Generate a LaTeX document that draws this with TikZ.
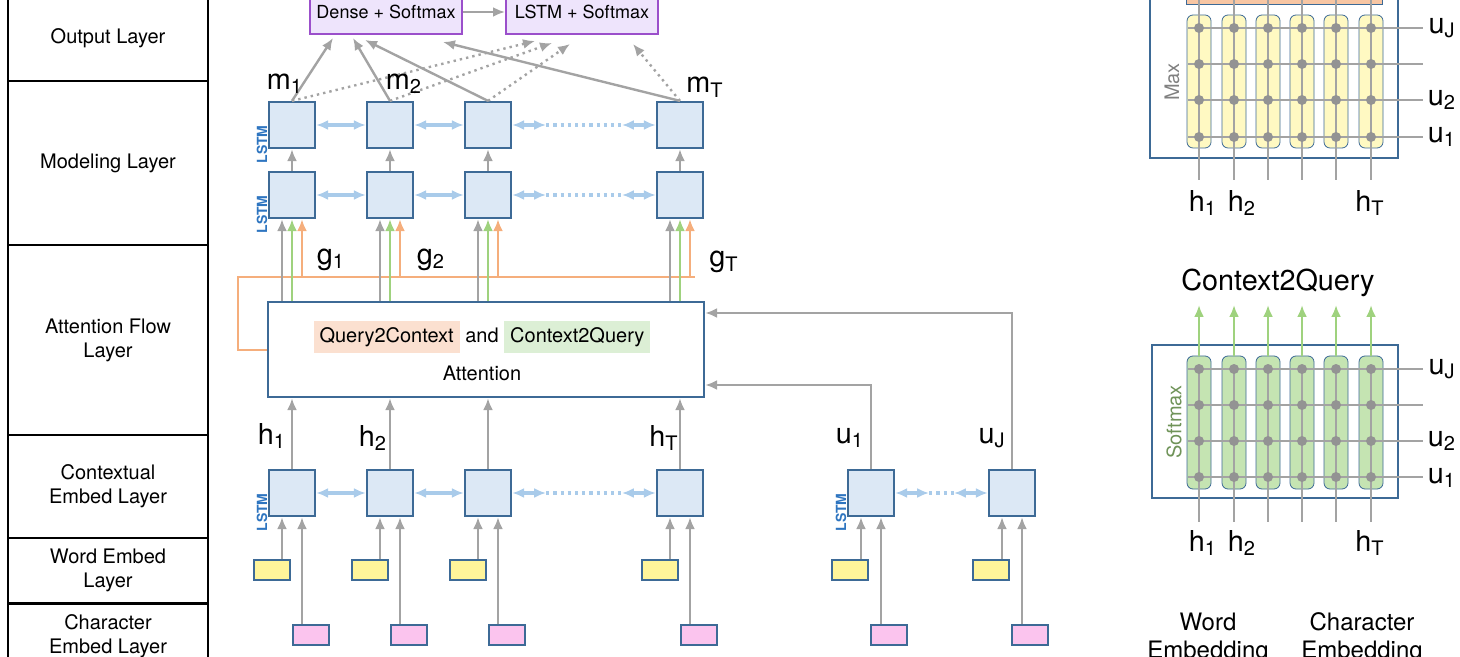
\documentclass[tikz,border=0pt]{standalone}
\usepackage{fontspec}
\setmainfont{TeX Gyre Heros}
\usetikzlibrary{positioning, arrows.meta}
\definecolor{cellfill}{HTML}{DCE8F5}
\definecolor{cellline}{HTML}{3D6A96}
\definecolor{lblue}{HTML}{A9CBEA}
\definecolor{lgray}{HTML}{A3A3A3}
\definecolor{orng}{HTML}{F5AE7C}
\definecolor{grn}{HTML}{9FD27E}
\definecolor{purp}{HTML}{9B4FCB}
\definecolor{purpfill}{HTML}{EEE4FC}
\definecolor{yel}{HTML}{FFF59A}
\definecolor{pnk}{HTML}{FBC4EE}
\definecolor{lstmblue}{HTML}{2E75C0}
\newcommand{\sub}[2]{#1\textsubscript{#2}}
\tikzset{
  cell/.style={draw=cellline, fill=cellfill, line width=1.1pt, minimum size=23pt, inner sep=0pt},
  wemb/.style={draw=cellline, fill=yel, line width=1pt, minimum width=18pt, minimum height=10pt, inner sep=0pt},
  cemb/.style={draw=cellline, fill=pnk, line width=1pt, minimum width=18pt, minimum height=10pt, inner sep=0pt},
  layer/.style={draw, line width=0.8pt, minimum width=100pt, align=center, inner sep=0pt},
  outbox/.style={draw=purp, fill=purpfill, line width=1pt, minimum width=72pt, minimum height=22pt, font=\small},
  garr/.style={draw=lgray, line width=1.2pt, -{Latex[length=6pt,width=5pt]}},
  barr/.style={draw=lblue, line width=1.6pt, {Latex[length=6pt,width=5pt]}-{Latex[length=6pt,width=5pt]}},
  lab/.style={font=\Large, inner sep=0pt},
  lstm/.style={rotate=90, font=\scriptsize\bfseries, text=lstmblue, inner sep=0pt},
  dot/.style={circle, fill=gray!85, inner sep=0pt, minimum size=5pt},
}
\begin{document}
\begin{tikzpicture}[x=0.5pt, y=-0.5pt]
\useasboundingbox (0,0) rectangle (1460,657);

% layer names on the left
\node[layer, minimum height=43pt] (lout) at (108,38) {Output Layer};
\node[layer, minimum height=82pt] (lmod) at (108,163) {Modeling Layer};
\node[layer, minimum height=95pt] (latt) at (108,340) {Attention Flow\\Layer};
\node[layer, minimum height=51.5pt] (lctx) at (108,486.5) {Contextual\\Embed Layer};
\node[layer, minimum height=32.5pt] (lwrd) at (108,570.5) {Word Embed\\Layer};
\node[layer, minimum height=32pt, anchor=north] (lchr) at (108,603) {Character\\Embed Layer};

% output layer
\node[outbox] (dense) at (386,12) {Dense + Softmax};
\node[outbox, minimum width=76pt] (lsmax) at (582,12) {LSTM + Softmax};
\draw[garr] (dense) -- (lsmax);

% modeling, contextual cells
\foreach \i/\x in {1/292, 2/390, 3/488, 4/680} {
  \node[cell] (m\i) at (\x,125) {};
  \node[cell] (n\i) at (\x,195) {};
  \node[cell] (h\i) at (\x,493) {};
  \node[wemb] (w\i) at (\x-20,570) {};
  \node[cemb] (c\i) at (\x+19,635) {};
  \draw[garr] (n\i) -- (m\i);
  \draw[garr] (w\i.north -| {\x-10,0}) -- (h\i.south -| {\x-10,0});
  \draw[garr] (c\i.north -| {\x+10,0}) -- (h\i.south -| {\x+10,0});
}
\foreach \i/\x in {1/871, 2/1012} {
  \node[cell] (q\i) at (\x,493) {};
  \node[wemb] (qw\i) at (\x-21,570) {};
  \node[cemb] (qc\i) at (\x+18,635) {};
  \draw[garr] (qw\i.north -| {\x-10,0}) -- (q\i.south -| {\x-10,0});
  \draw[garr] (qc\i.north -| {\x+10,0}) -- (q\i.south -| {\x+10,0});
}
\node[lstm, left=3pt of m1] {LSTM};
\node[lstm, left=3pt of n1] {LSTM};
\node[lstm, left=3pt of h1] {LSTM};
\node[lstm, left=3pt of q1] {LSTM};

% bidirectional links
\foreach \r in {m,n,h} {
  \draw[barr] (\r1) -- (\r2);
  \draw[barr] (\r2) -- (\r3);
  \draw[barr] (\r3.east) -- ++(34,0) coordinate (\r a);
  \draw[barr] (\r4.west) -- ++(-34,0) coordinate (\r b);
  \draw[lblue, line width=1.6pt, dotted] (\r a) -- (\r b);
}
\draw[barr] (q1.east) -- ++(34,0) coordinate (qa);
\draw[barr] (q2.west) -- ++(-34,0) coordinate (qb);
\draw[lblue, line width=1.6pt, dotted] (qa) -- (qb);

% attention box
\node[draw=cellline, line width=1.1pt, minimum width=218pt, minimum height=47.5pt, inner sep=0pt] (att) at (486,349.5) {};
\node[inner sep=1pt] (atxt) at (482,337) {\colorbox[HTML]{FBE0D0}{Query2Context} and \colorbox[HTML]{DCEFD5}{Context2Query}};
\node[below=2pt of atxt] (atxt2) {Attention};

% contextual outputs
\foreach \i/\x in {1/292, 2/390, 3/488, 4/680}
  \draw[garr] (h\i.north) -- (att.south -| h\i);
\draw[garr] (q1.north) |- (att.south east |- {0,385});
\draw[garr] (q2.north) |- (att.north east |- {0,313});

% attention outputs
\draw[orng, line width=1.3pt] (att.west |- {0,350}) -| (238,277) -- (695,277);
\foreach \i/\x in {1/292, 2/390, 3/488, 4/680} {
  \draw[garr] (att.north -| {\x-10,0}) -- (n\i.south -| {\x-10,0});
  \draw[garr, draw=grn] (att.north -| {\x,0}) -- (n\i.south -| {\x,0});
  \draw[garr, draw=orng] (\x+10,277) -- (n\i.south -| {\x+10,0});
}

% modeling outputs
\draw[garr] (m1.north) -- (333,38);
\draw[garr] (m2.north) -- (353,38);
\draw[garr] (m3.north) -- (365,40);
\draw[garr] (m4.north) -- (443,42);
\draw[garr, dotted] (m1.north) -- (535,41);
\draw[garr, dotted] (m2.north) -- (552,43);
\draw[garr, dotted] (m3.north) -- (570,44);
\draw[garr, dotted] (m4.north) -- (633,44);

% labels
\node[lab] (lm1) at (285,84) {\sub{m}{1}};
\node[lab] (lm2) at (404,84) {\sub{m}{2}};
\node[lab] (lm4) at (705,87) {\sub{m}{T}};
\node[lab] (lg1) at (331,260) {\sub{g}{1}};
\node[lab] (lg2) at (431,260) {\sub{g}{2}};
\node[lab] (lg4) at (724,262) {\sub{g}{T}};
\node[lab] (lh1) at (272,436) {\sub{h}{1}};
\node[lab] (lh2) at (373,438) {\sub{h}{2}};
\node[lab] (lh4) at (664,438) {\sub{h}{T}};
\node[lab] (lu1) at (850,438) {\sub{u}{1}};
\node[lab] (lu2) at (992,438) {\sub{u}{J}};

% similarity grids on the right
\draw[cellline, line width=1.2pt] (1150,-20) rectangle (1398,158);
\draw[cellline, line width=1.2pt] (1152,345) rectangle (1398,498);
\fill[orng!70, draw=cellline] (1186,-14) rectangle (1382,4);
\foreach \x in {1199,1234,1268,1302,1336,1371} {
  \filldraw[draw=cellline, fill=yel!60, rounded corners=3pt] (\x-12,15) rectangle (\x+12,148);
  \filldraw[draw=cellline, fill=grn!60, rounded corners=3pt] (\x-12,356) rectangle (\x+12,489);
}
\foreach \y in {28,64,100,137}
  \draw[lgray, line width=1.2pt] (1188,\y) -- (1423,\y);
\foreach \y in {369,405,441,477}
  \draw[lgray, line width=1.2pt] (1188,\y) -- (1423,\y);
\foreach \x in {1199,1234,1268,1302,1336,1371} {
  \draw[lgray, line width=1.2pt] (\x,0) -- (\x,180);
  \draw[lgray, line width=1.2pt] (\x,369) -- (\x,522);
  \draw[garr, draw=grn] (\x,356) -- (\x,305);
  \foreach \y in {28,64,100,137} \node[dot] at (\x,\y) {};
  \foreach \y in {369,405,441,477} \node[dot] at (\x,\y) {};
}
\node[rotate=90, text=gray] (lmax) at (1172,82) {Max};
\node[rotate=90, text=grn!70!black] (lsoft) at (1174,422) {Softmax};
\node[font=\Large] (c2q) at (1278,283) {Context2Query};
\foreach \y/\d in {0/0, 340/341} {
  \node[lab] at (1442,{28+\d}) {\sub{u}{J}};
  \node[lab] at (1442,{100+\d}) {\sub{u}{2}};
  \node[lab] at (1442,{137+\d}) {\sub{u}{1}};
  \node[lab] at (1203,{203+\y}) {\sub{h}{1}};
  \node[lab] at (1242,{203+\y}) {\sub{h}{2}};
  \node[lab] at (1370,{203+\y}) {\sub{h}{T}};
}
\node[font=\large, align=center, anchor=north] (wemb) at (1208,606) {Word\\Embedding};
\node[font=\large, align=center, anchor=north] (cemb) at (1362,606) {Character\\Embedding};
\end{tikzpicture}
\end{document}
